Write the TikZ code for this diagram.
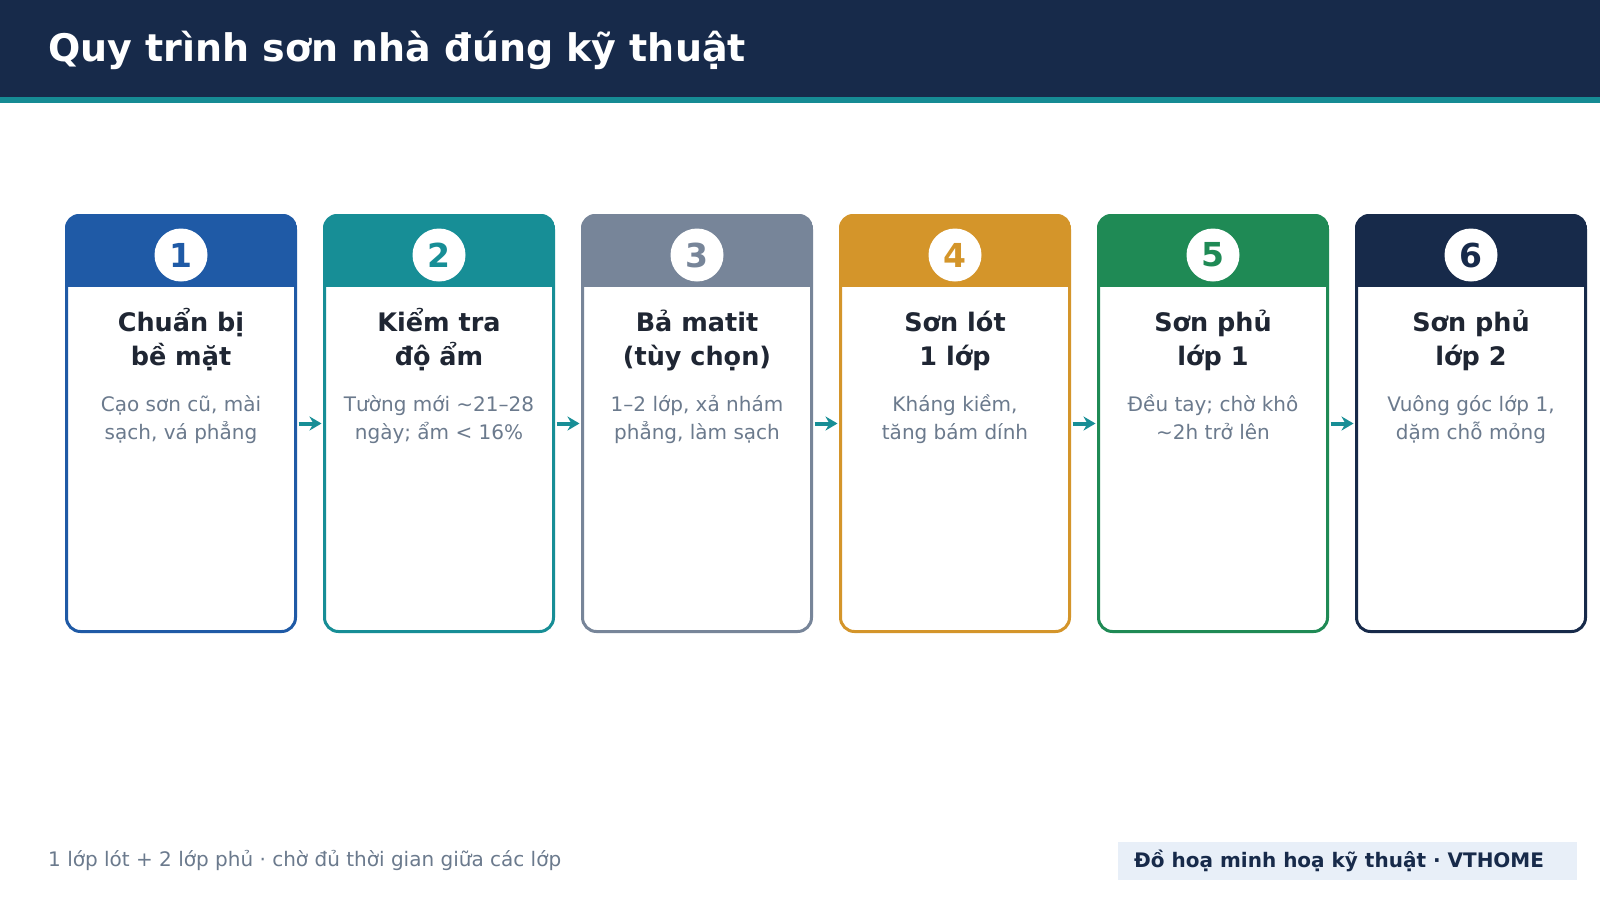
\documentclass[tikz,border=0pt]{standalone}
\usepackage{fontspec}
\setmainfont{DejaVu Sans}
\usetikzlibrary{arrows.meta}
\definecolor{navy}{HTML}{172A4A}
\definecolor{stripe}{HTML}{168B94}
\definecolor{cA}{HTML}{1F5AA6}
\definecolor{cB}{HTML}{178E96}
\definecolor{cC}{HTML}{778599}
\definecolor{cD}{HTML}{D4952A}
\definecolor{cE}{HTML}{1F8A55}
\definecolor{cF}{HTML}{172A4A}
\definecolor{ink}{HTML}{1F2633}
\definecolor{muted}{HTML}{6B7A8D}
\definecolor{tagbg}{HTML}{E8EFF8}
\tikzset{
  cardbox/.style={draw=#1, line width=3pt, rounded corners=14pt, fill=white,
    minimum width=229pt, minimum height=416pt, inner sep=0pt},
  numdisc/.style={circle, fill=white, minimum size=53pt, inner sep=0pt,
    text=#1, font=\bfseries\fontsize{33}{33}\selectfont},
  cardtitle/.style={anchor=base, text=ink, font=\bfseries\fontsize{25.5}{28}\selectfont},
  carddesc/.style={anchor=base, text=muted, font=\fontsize{20}{24}\selectfont},
  flowarrow/.style={draw=cB, line width=4pt, -{Stealth[length=12pt,width=14pt]}},
}
\begin{document}
\begin{tikzpicture}[x=1pt,y=-1pt]
\useasboundingbox (0,0) rectangle (1600,900);
\fill[white] (0,0) rectangle (1600,900);
\fill[navy] (0,0) rectangle (1600,97);
\fill[stripe] (0,97) rectangle (1600,103);
\node[anchor=base west, inner sep=0pt, text=white, font=\bfseries\fontsize{38}{40}\selectfont] (title) at (48,61) {Quy trình sơn nhà đúng kỹ thuật};

\foreach \i/\col/\ta/\tb/\da/\db in {
  1/cA/{Chuẩn bị}/{bề mặt}/{Cạo sơn cũ, mài}/{sạch, vá phẳng},
  2/cB/{Kiểm tra}/{độ ẩm}/{Tường mới \char"007E 21–28}/{ngày; ẩm < 16\%},
  3/cC/{Bả matit}/{(tùy chọn)}/{1–2 lớp, xả nhám}/{phẳng, làm sạch},
  4/cD/{Sơn lót}/{1 lớp}/{Kháng kiềm,}/{tăng bám dính},
  5/cE/{Sơn phủ}/{lớp 1}/{Đều tay; chờ khô}/{\char"007E 2h trở lên},
  6/cF/{Sơn phủ}/{lớp 2}/{Vuông góc lớp 1,}/{dặm chỗ mỏng}} {
  \pgfmathsetmacro{\cx}{181+258*(\i-1)}
  \node[cardbox=\col] (card\i) at (\cx,423.5) {};
  \begin{scope}
    \clip[rounded corners=14pt] (\cx-116,214) rectangle (\cx+116,633);
    \fill[\col] (\cx-116,214) rectangle (\cx+116,287);
  \end{scope}
  \node[numdisc=\col] (num\i) at (\cx,255) {\i};
  \node[cardtitle] (ta\i) at (\cx,331) {\ta};
  \node[cardtitle] (tb\i) at (\cx,365) {\tb};
  \node[carddesc] (da\i) at (\cx,411.5) {\da};
  \node[carddesc] (db\i) at (\cx,439) {\db};
}
\foreach \i/\j in {1/2,2/3,3/4,4/5,5/6} {
  \draw[flowarrow] ([xshift=1.5pt]card\i.east) -- ([xshift=-1.5pt]card\j.west);
}

\node[anchor=base west, inner sep=0pt, text=muted, font=\fontsize{20}{24}\selectfont] (foot) at (48,866) {1 lớp lót + 2 lớp phủ · chờ đủ thời gian giữa các lớp};
\node[anchor=west, fill=tagbg, minimum width=459pt, minimum height=38pt, inner sep=0pt] (tag) at (1118,861) {};
\node[anchor=base west, inner sep=0pt, text=navy, font=\bfseries\fontsize{20}{24}\selectfont] (tagtext) at (1134,867) {Đồ hoạ minh hoạ kỹ thuật · VTHOME};
\end{tikzpicture}
\end{document}
